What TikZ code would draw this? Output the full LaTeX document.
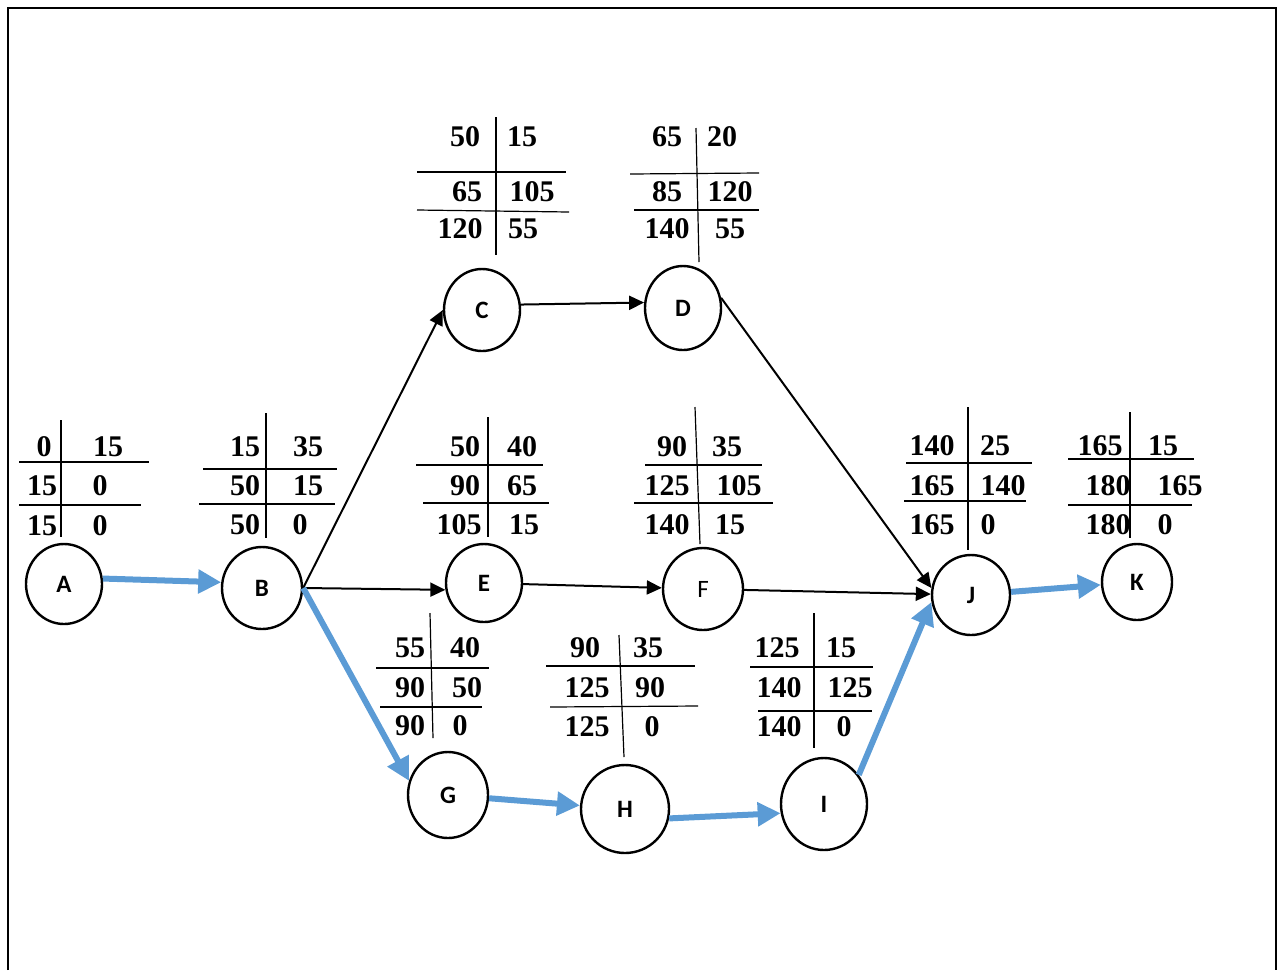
\documentclass[tikz,border=0pt]{standalone}
\usepackage{fontspec}
\setmainfont{Liberation Serif}
\newfontfamily\lblfont{Carlito}
\usetikzlibrary{arrows.meta,shapes.geometric}
\definecolor{critblue}{RGB}{91,155,213}

\begin{document}
\begin{tikzpicture}[x=0.5pt, y=-0.5pt,
        event/.style={draw, ellipse, line width=1.2pt, minimum width=39pt, minimum height=41pt, inner sep=0pt, font=\lblfont\bfseries\fontsize{12.5}{14}\selectfont},
        num/.style={inner sep=0pt, font=\bfseries\fontsize{15}{18}\selectfont},
        grid/.style={line width=0.6pt},
        act/.style={-{Triangle[length=7.5pt,width=7pt]}, line width=1pt},
        crit/.style={-{Triangle[length=11.5pt,width=11.5pt]}, line width=3pt, critblue}]
        \useasboundingbox (0,0) rectangle (1279,970);
        \draw[line width=1.2pt] (8,970) -- (8,8) -- (1276,8) -- (1276,970);
        % events
        \node[event, minimum width=38pt, minimum height=40pt] (nA) at (64,584) {A};
        \node[event, minimum width=40pt] (nB) at (262,588) {B};
        \node[event, minimum width=38pt] (nC) at (482,310) {C};
        \node[event, minimum width=38pt, minimum height=42pt] (nD) at (683,308) {D};
        \node[event, minimum width=38pt, minimum height=39pt] (nE) at (484,583) {E};
        \node[event, minimum width=40pt, font=\lblfont\fontsize{12.5}{14}\selectfont] (nF) at (703,589) {F};
        \node[event, minimum width=40pt, minimum height=43pt] (nG) at (448,795) {G};
        \node[event, minimum width=44pt, minimum height=44pt] (nH) at (625,809) {H};
        \node[event, minimum width=43pt, minimum height=46pt] (nI) at (824,804) {I};
        \node[event, minimum height=40pt] (nJ) at (971,595) {J};
        \node[event, minimum width=35pt, minimum height=38pt] (nK) at (1137,582) {K};
        % table A
        \draw[grid] (61,420) -- (61,537);
        \draw[grid] (19,462) -- (149,462);
        \draw[grid] (19,505) -- (141,505);
        \node[num] (ta1) at (44,447) {0};
        \node[num] (ta2) at (108,447) {15};
        \node[num] (ta3) at (42,486) {15};
        \node[num] (ta4) at (100,486) {0};
        \node[num] (ta5) at (42,526) {15};
        \node[num] (ta6) at (100,526) {0};
        % table B
        \draw[grid] (266,413) -- (266,538);
        \draw[grid] (203,469) -- (337,469);
        \draw[grid] (199,504) -- (335,504);
        \node[num] (tb1) at (245,447) {15};
        \node[num] (tb2) at (308,447) {35};
        \node[num] (tb3) at (245,486) {50};
        \node[num] (tb4) at (308,486) {15};
        \node[num] (tb5) at (245,525) {50};
        \node[num] (tb6) at (300,525) {0};
        % table C
        \draw[grid] (496,117) -- (496,255);
        \draw[grid] (417,172) -- (566,172);
        \draw[grid] (417,210) -- (569,212);
        \node[num] (tc1) at (465,137) {50};
        \node[num] (tc2) at (522,137) {15};
        \node[num] (tc3) at (467,192) {65};
        \node[num] (tc4) at (532,192) {105};
        \node[num] (tc5) at (460,229) {120};
        \node[num] (tc6) at (523,229) {55};
        % table D
        \draw[grid] (696,128) -- (699,262);
        \draw[grid] (630,174) -- (759,173);
        \draw[grid] (634,210) -- (759,210);
        \node[num] (td1) at (667,137) {65};
        \node[num] (td2) at (722,137) {20};
        \node[num] (td3) at (667,192) {85};
        \node[num] (td4) at (730,192) {120};
        \node[num] (td5) at (667,229) {140};
        \node[num] (td6) at (730,229) {55};
        % table E
        \draw[grid] (488,417) -- (488,537);
        \draw[grid] (416,465) -- (543,465);
        \draw[grid] (423,503) -- (549,503);
        \node[num] (te1) at (465,447) {50};
        \node[num] (te2) at (522,447) {40};
        \node[num] (te3) at (465,486) {90};
        \node[num] (te4) at (522,486) {65};
        \node[num] (te5) at (459,525) {105};
        \node[num] (te6) at (524,525) {15};
        % table F
        \draw[grid] (695,407) -- (700,544);
        \draw[grid] (645,465) -- (762,465);
        \draw[grid] (634,503) -- (773,503);
        \node[num] (tf1) at (672,447) {90};
        \node[num] (tf2) at (727,447) {35};
        \node[num] (tf3) at (667,486) {125};
        \node[num] (tf4) at (739,486) {105};
        \node[num] (tf5) at (667,525) {140};
        \node[num] (tf6) at (730,525) {15};
        % table G
        \draw[grid] (430,613) -- (433,738);
        \draw[grid] (376,668) -- (489,668);
        \draw[grid] (380,707) -- (482,707);
        \node[num] (tg1) at (410,648) {55};
        \node[num] (tg2) at (465,648) {40};
        \node[num] (tg3) at (410,688) {90};
        \node[num] (tg4) at (467,688) {50};
        \node[num] (tg5) at (410,726) {90};
        \node[num] (tg6) at (460,726) {0};
        % table H
        \draw[grid] (619,635) -- (624,757);
        \draw[grid] (546,666) -- (695,666);
        \draw[grid] (550,707) -- (698,706);
        \node[num] (th1) at (585,648) {90};
        \node[num] (th2) at (648,648) {35};
        \node[num] (th3) at (587,688) {125};
        \node[num] (th4) at (650,688) {90};
        \node[num] (th5) at (587,727) {125};
        \node[num] (th6) at (652,727) {0};
        % table I
        \draw[grid] (814,613) -- (814,748);
        \draw[grid] (750,667) -- (873,667);
        \draw[grid] (758,711) -- (872,711);
        \node[num] (ti1) at (777,648) {125};
        \node[num] (ti2) at (841,648) {15};
        \node[num] (ti3) at (779,688) {140};
        \node[num] (ti4) at (850,688) {125};
        \node[num] (ti5) at (779,727) {140};
        \node[num] (ti6) at (844,727) {0};
        % table J
        \draw[grid] (968,407) -- (968,550);
        \draw[grid] (906,463) -- (1032,463);
        \draw[grid] (904,501) -- (1026,501);
        \node[num] (tj1) at (932,446) {140};
        \node[num] (tj2) at (995,446) {25};
        \node[num] (tj3) at (932,486) {165};
        \node[num] (tj4) at (1003,486) {140};
        \node[num] (tj5) at (932,525) {165};
        \node[num] (tj6) at (988,525) {0};
        % table K
        \draw[grid] (1130,412) -- (1130,538);
        \draw[grid] (1068,459) -- (1194,459);
        \draw[grid] (1068,505) -- (1192,505);
        \node[num] (tk1) at (1100,446) {165};
        \node[num] (tk2) at (1163,446) {15};
        \node[num] (tk3) at (1108,486) {180};
        \node[num] (tk4) at (1180,486) {165};
        \node[num] (tk5) at (1108,525) {180};
        \node[num] (tk6) at (1165,525) {0};
        % activities
        \draw[crit] (nA.8) -- (nB.172);
        \draw[act] (nB.east) -- (nC.west);
        \draw[act] (nB.east) -- (nE.190);
        \draw[crit] (nB.east) -- (nG.160);
        \draw[act] (nC.8) -- (nD.172);
        \draw[act] (nD.15) -- (nJ.170);
        \draw[act] (nE) -- (nF);
        \draw[act] (nF) -- (nJ);
        \draw[crit] (nG) -- (nH);
        \draw[crit] (nH.-12) -- (nI.192);
        \draw[crit] (nI.40) -- (nJ.190);
        \draw[crit] (nJ) -- (nK);
    \end{tikzpicture}
\end{document}
